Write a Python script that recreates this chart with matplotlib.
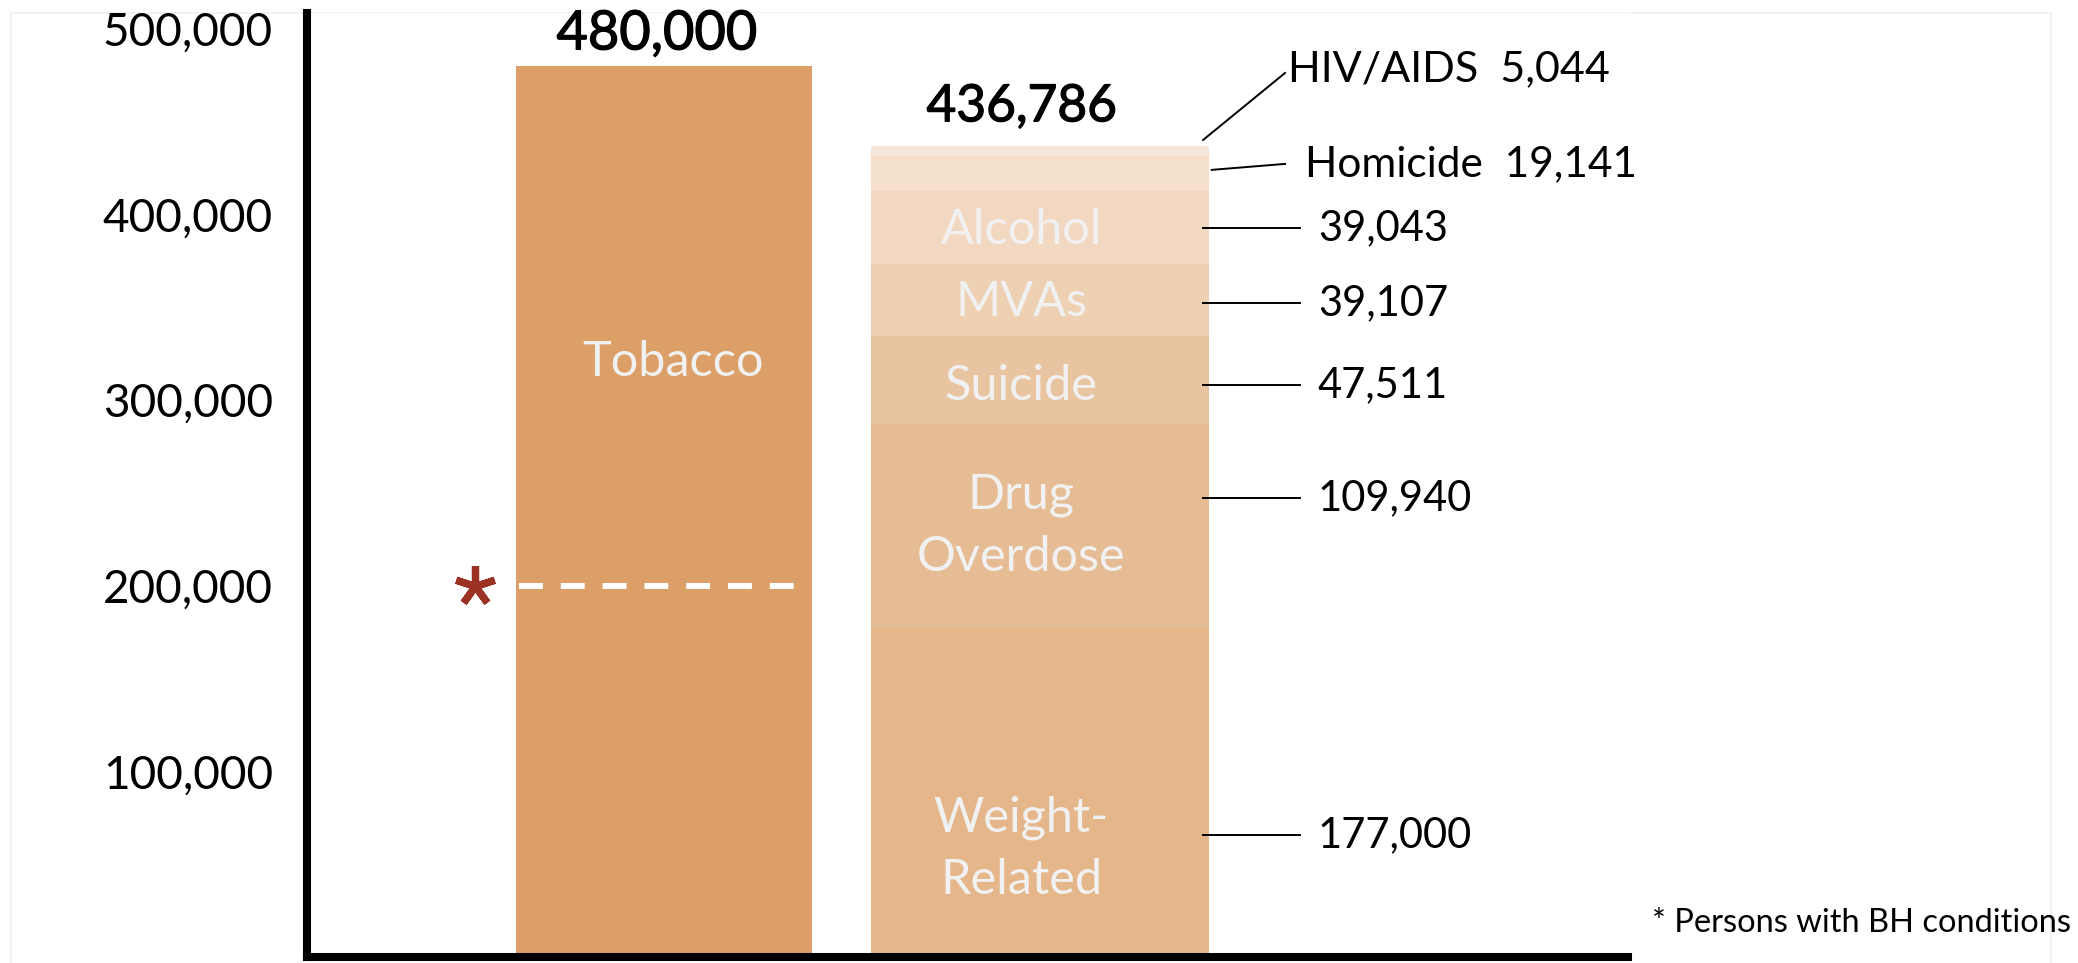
import matplotlib
matplotlib.use("Agg")
import matplotlib.pyplot as plt
import matplotlib.patheffects as pe
from matplotlib.lines import Line2D

plt.rcParams['font.family'] = ['Lato', 'DejaVu Sans']

# annual deaths
tobacco_deaths = 480000
bh_tobacco_deaths = 200000          # persons with BH conditions
causes = ['Weight-\nRelated', 'Drug\nOverdose', 'Suicide', 'MVAs', 'Alcohol', 'Homicide', 'HIV/AIDS']
cause_deaths = [177000, 109940, 47511, 39107, 39043, 19141, 5044]
y_ticks = [100000, 200000, 300000, 400000, 500000]

# styling / layout
tobacco_color = '#DB9F67'
seg_colors = ['#E4B68A', '#E6BC94', '#E9C4A0', '#EED0B2', '#F2D8C0', '#F4E0CD', '#F6E7DA']
inner_frac = [0.33, 0.5, 0.44, 0.47, 0.46, None, None]     # where the name sits inside a segment
leader_frac = [0.37, 0.64, 0.45, 0.46, 0.49, 0.6, None]    # where the leader line touches
inner_color = '#F1F1F1'
medium = [pe.withStroke(linewidth=0.9, foreground='black')]

W, H = 2078, 963
fig = plt.figure(figsize=(W / 100, H / 100), dpi=100)
ax = fig.add_axes([307 / W, (H - 957) / H, (1628 - 307) / W, (957 - 13) / H])

x_tob, x_oth = 0, 1
w_tob, w_oth = 0.787, 0.899

# tobacco bar
ax.bar(x_tob, tobacco_deaths, width=w_tob, color=tobacco_color, zorder=2)
ax.text(x_tob + 0.024, 320600, 'Tobacco', ha='center', va='center',
        fontsize=35, color=inner_color, zorder=3)
ax.annotate(f'{tobacco_deaths:,}', (x_tob - 0.019, tobacco_deaths), xytext=(0, 12),
            textcoords='offset points', ha='center', va='baseline',
            fontsize=39, color='black', path_effects=medium)

# dashed line for persons with BH conditions
px = 1 / 376  # data units per pixel along x
ax.hlines(bh_tobacco_deaths, x_tob - w_tob / 2 + 3 * px, x_tob + w_tob / 2 - 3 * px,
          colors='white', linewidth=4.3, linestyles=(0, (4, 3)), zorder=3)
ax.plot([x_tob - w_tob / 2 - 0.11], [bh_tobacco_deaths], marker=(5, 2, 0),
        markersize=29, markeredgewidth=5.2, color='#9B3223', clip_on=False, zorder=3)

# stacked bar of other causes
bottom = 0
line_x0, line_x1, num_x = 1.434, 1.691, 1.739
for i, (name, val) in enumerate(zip(causes, cause_deaths)):
    ax.bar(x_oth, val, width=w_oth, bottom=bottom, color=seg_colors[i], zorder=2)
    if inner_frac[i] is not None:
        ax.text(x_oth - 0.05, bottom + inner_frac[i] * val, name, ha='center', va='center',
                fontsize=35, color=inner_color, linespacing=1.5, zorder=3)
    if leader_frac[i] is not None and inner_frac[i] is not None:
        yl = bottom + leader_frac[i] * val
        ax.plot([line_x0, line_x1], [yl, yl], color='black', lw=1.4, clip_on=False, zorder=4)
        ax.text(num_x, yl, f'{val:,}', ha='left', va='center', fontsize=30, zorder=4)
    bottom += val
total = bottom

# homicide and HIV/AIDS are labelled outside the bar
hom_bottom = sum(cause_deaths[:5])
yl = hom_bottom + leader_frac[5] * cause_deaths[5]
ax.plot([1.457, 1.652], [yl, 427300], color='black', lw=1.4, clip_on=False, zorder=4)
ax.text(1.705, 427300, f'{causes[5]}  {cause_deaths[5]:,}', ha='left', va='center', fontsize=30.5)
ax.plot([1.434, 1.652], [total + 3400, 476300], color='black', lw=1.4, clip_on=False, zorder=4)
ax.text(1.66, 478400, f'{causes[6]}  {cause_deaths[6]:,}', ha='left', va='center', fontsize=31)

ax.annotate(f'{total:,}', (x_oth - 0.048, total), xytext=(0, 18),
            textcoords='offset points', ha='center', va='baseline',
            fontsize=37, color='black', path_effects=medium)

# axes
ax.set_xlim(-0.949, 2.564)
ax.set_ylim(0, 508600)
ax.set_xticks([])
ax.set_yticks(y_ticks)
ax.set_yticklabels([f'{v:,}' for v in y_ticks])
ax.tick_params(axis='y', length=0, pad=24.5, labelsize=33)
for s in ['top', 'right']:
    ax.spines[s].set_visible(False)
for s in ['left', 'bottom']:
    ax.spines[s].set_linewidth(5.8)
    ax.spines[s].set_color('black')

fig.text(1652 / W, (H - 923) / H, '* Persons with BH conditions', ha='left', va='center', fontsize=23.5)

# faint frame around the slide
frame = dict(color='#F6EEE8', lw=1.2, transform=fig.transFigure, zorder=0)
fig.add_artist(Line2D([11 / W, 11 / W], [0, 1 - 13 / H], **frame))
fig.add_artist(Line2D([11 / W, 2051 / W], [1 - 13 / H, 1 - 13 / H], **frame))
fig.add_artist(Line2D([2051 / W, 2051 / W], [0, 1 - 13 / H], **frame))

fig.savefig('out.png', dpi=100, facecolor='white')
